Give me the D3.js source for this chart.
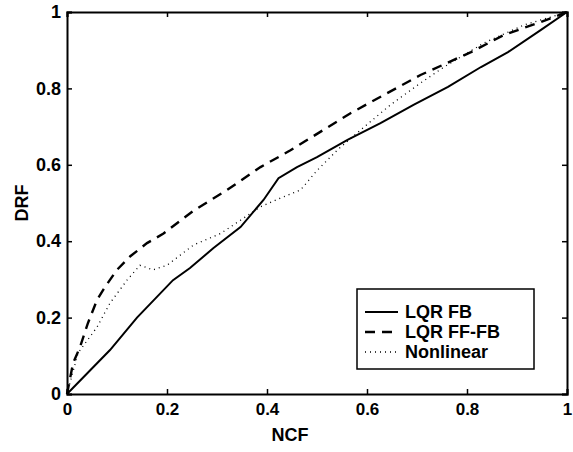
<!DOCTYPE html>
<html>
<head>
<script src="https://cdn.jsdelivr.net/npm/d3@7"></script>
<style>
  body { margin: 0; background: #fff; }
  text { font-family: "Liberation Sans", Arial, sans-serif; font-weight: bold; fill: #000; }
</style>
</head>
<body>
<script>
  // values
  const fbX = [0, 0.086, 0.14, 0.212, 0.246, 0.293, 0.347, 0.393, 0.423, 0.46, 0.5, 0.561, 0.627, 0.693, 0.762, 0.828, 0.882, 0.948, 1]
  const fbY = [0, 0.115, 0.2, 0.298, 0.33, 0.382, 0.437, 0.508, 0.565, 0.594, 0.62, 0.665, 0.709, 0.757, 0.804, 0.856, 0.895, 0.953, 1]

  const ffX = [0, 0.012, 0.026, 0.042, 0.06, 0.076, 0.1, 0.126, 0.16, 0.193, 0.253, 0.32, 0.387, 0.447, 0.567, 0.707, 0.808, 0.874, 0.948, 1]
  const ffY = [0, 0.08, 0.123, 0.186, 0.246, 0.28, 0.325, 0.36, 0.395, 0.42, 0.48, 0.534, 0.594, 0.638, 0.735, 0.835, 0.895, 0.94, 0.974, 1]

  const nlX = [0, 0.022, 0.06, 0.086, 0.12, 0.146, 0.172, 0.2, 0.253, 0.307, 0.347, 0.387, 0.427, 0.467, 0.5, 0.541, 0.587, 0.647, 0.707, 0.754, 0.834, 0.914, 0.968, 1]
  const nlY = [0, 0.107, 0.175, 0.238, 0.298, 0.337, 0.325, 0.337, 0.39, 0.42, 0.455, 0.49, 0.513, 0.534, 0.585, 0.639, 0.691, 0.757, 0.814, 0.856, 0.919, 0.966, 0.987, 1]

  const ticks = [0, 0.2, 0.4, 0.6, 0.8, 1]
  const seriesNames = ['LQR FB', 'LQR FF-FB', 'Nonlinear']

  const W = 573, H = 452
  const m = { left: 67, right: 567, top: 12, bottom: 394 }

  const svg = d3.select('body').append('svg').attr('width', W).attr('height', H)

  const x = d3.scaleLinear().domain([0, 1]).range([m.left, m.right])
  const y = d3.scaleLinear().domain([0, 1]).range([m.bottom, m.top])

  const styles = [
    { dash: null, width: 2 },
    { dash: '10,7', width: 2.4 },
    { dash: '1,4', width: 1.3 }
  ]
  const series = [
    fbX.map((v, i) => [v, fbY[i]]),
    ffX.map((v, i) => [v, ffY[i]]),
    nlX.map((v, i) => [v, nlY[i]])
  ]

  const line = d3.line().x(d => x(d[0])).y(d => y(d[1]))

  series.forEach((s, i) => {
    svg.append('path')
      .datum(s)
      .attr('d', line)
      .attr('fill', 'none')
      .attr('stroke', '#000')
      .attr('stroke-width', styles[i].width)
      .attr('stroke-dasharray', styles[i].dash)
  })

  // axes, ticks pointing inward on all four sides
  const fmt = d => d === 0 || d === 1 ? d3.format('d')(d) : d3.format('.1f')(d)
  const gx = svg.append('g').attr('transform', `translate(0,${m.bottom})`)
    .call(d3.axisBottom(x).tickValues(ticks).tickSize(-5).tickPadding(9).tickFormat(fmt))
  const gy = svg.append('g').attr('transform', `translate(${m.left},0)`)
    .call(d3.axisLeft(y).tickValues(ticks).tickSize(-5).tickPadding(6).tickFormat(fmt))
  const gt = svg.append('g').attr('transform', `translate(0,${m.top})`)
    .call(d3.axisTop(x).tickValues(ticks).tickSize(-5).tickFormat(''))
  const gr = svg.append('g').attr('transform', `translate(${m.right},0)`)
    .call(d3.axisRight(y).tickValues(ticks).tickSize(-5).tickFormat(''))

  ;[gx, gy, gt, gr].forEach(g => {
    g.select('.domain').attr('stroke', '#000').attr('stroke-width', 2)
    g.selectAll('.tick line').attr('stroke', '#000').attr('stroke-width', 1.5)
    g.attr('font-family', null).attr('font-size', null)
  })
  gx.selectAll('text').attr('font-size', 17)
  gy.selectAll('text').attr('font-size', 18)

  svg.append('text')
    .attr('x', (m.left + m.right) / 2 - 27).attr('y', 441)
    .attr('text-anchor', 'middle').attr('font-size', 18)
    .text('NCF')

  svg.append('text')
    .attr('transform', `translate(28,${(m.top + m.bottom) / 2}) rotate(-90)`)
    .attr('text-anchor', 'middle').attr('font-size', 18)
    .text('DRF')

  // legend
  const lg = svg.append('g')
  lg.append('rect')
    .attr('x', 357).attr('y', 289).attr('width', 177).attr('height', 80)
    .attr('fill', '#fff').attr('stroke', '#000').attr('stroke-width', 1.5)
  seriesNames.forEach((name, i) => {
    const ry = 312 + i * 20
    lg.append('line')
      .attr('x1', 365).attr('x2', 398).attr('y1', ry).attr('y2', ry)
      .attr('stroke', '#000')
      .attr('stroke-width', styles[i].width)
      .attr('stroke-dasharray', styles[i].dash)
    lg.append('text')
      .attr('x', 405).attr('y', ry + 6)
      .attr('font-size', 18)
      .text(name)
  })
</script>
</body>
</html>
